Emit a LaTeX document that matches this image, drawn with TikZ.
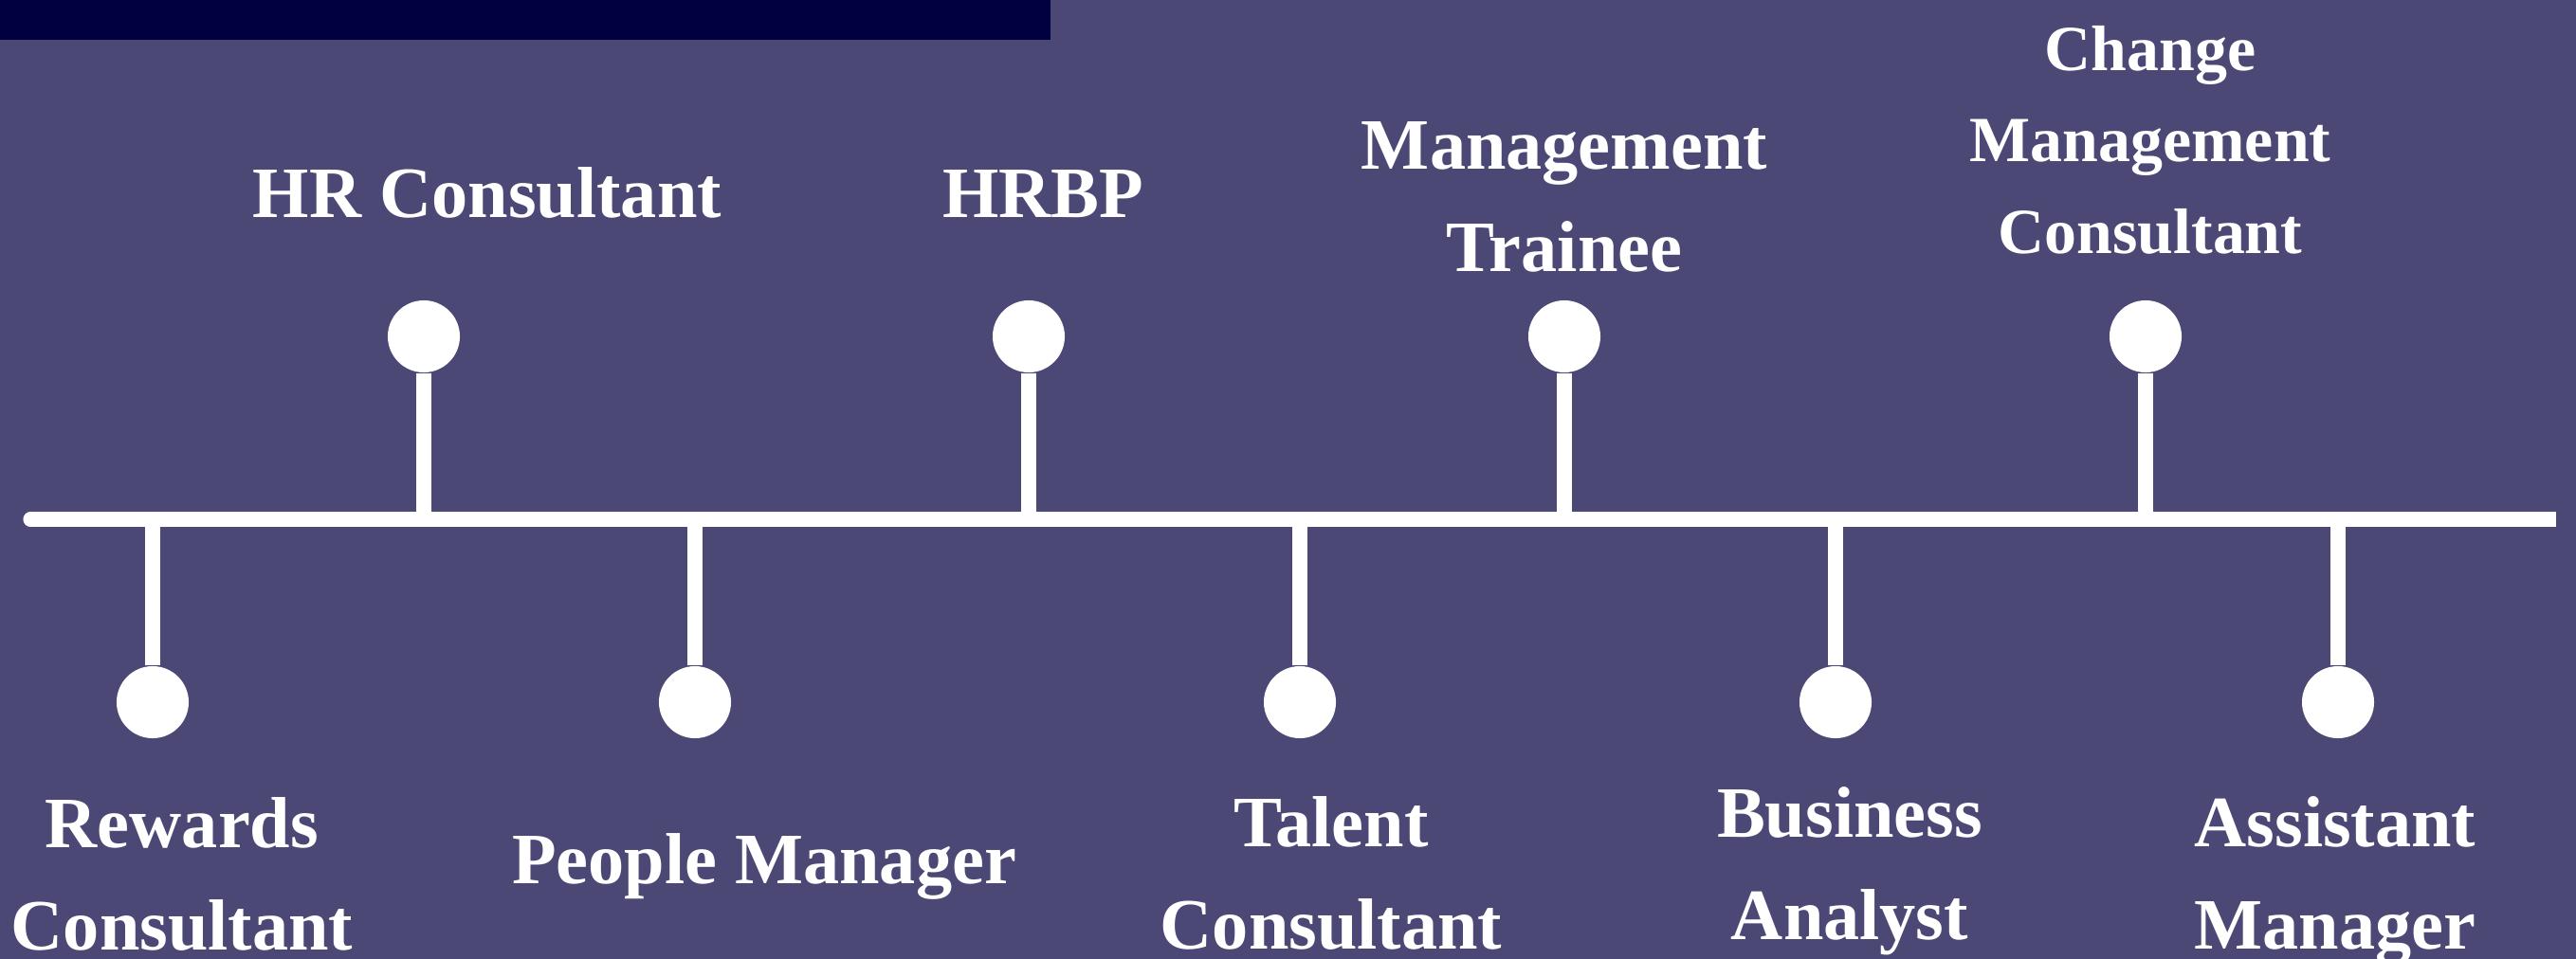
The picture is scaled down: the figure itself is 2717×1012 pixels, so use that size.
\documentclass[tikz,border=0pt]{standalone}
\usepackage{fontspec}
\setmainfont{Liberation Serif}
\definecolor{bgpurple}{HTML}{4B4876}
\definecolor{darknavy}{HTML}{000040}
\tikzset{
  dot/.style={circle, fill=white, inner sep=0pt, minimum size=0.76cm},
  stem/.style={white, line width=4.3pt},
  role/.style={text=white, align=center, inner sep=0pt, anchor=base,
    font=\fontsize{21.7}{30.7}\selectfont\bfseries}
}
\begin{document}
\begin{tikzpicture}[x=0.01cm, y=-0.01cm]
    \useasboundingbox (0,0) rectangle (2717,1012);
    \fill[bgpurple] (0,0) rectangle (2717,1012);
    \fill[darknavy] (0,0) rectangle (1108,42);
    % timeline
    \coordinate (start) at (32,548);
    \coordinate (stop) at (2696,548);
    \draw[stem, line cap=round] (start) -- (2000,548);
    \draw[stem] (2000,548) -- (stop);
    % points above the line
    \node[dot] (hrc) at (447,355) {};
    \node[dot] (hrbp) at (1085,355) {};
    \node[dot] (mgt) at (1650,355) {};
    \node[dot] (chg) at (2263,355) {};
    \draw[stem] (hrc) -- (hrc |- start);
    \draw[stem] (hrbp) -- (hrbp |- start);
    \draw[stem] (mgt) -- (mgt |- start);
    \draw[stem] (chg) -- (chg |- start);
    % points below the line
    \node[dot] (rew) at (161,741) {};
    \node[dot] (ppl) at (733,741) {};
    \node[dot] (tal) at (1371,741) {};
    \node[dot] (bus) at (1936,741) {};
    \node[dot] (ast) at (2466,741) {};
    \draw[stem] (rew) -- (rew |- start);
    \draw[stem] (ppl) -- (ppl |- start);
    \draw[stem] (tal) -- (tal |- start);
    \draw[stem] (bus) -- (bus |- start);
    \draw[stem] (ast) -- (ast |- start);
    % labels (base = last line)
    \node[role] (hrc-l) at (514,229) {HR Consultant};
    \node[role] (hrbp-l) at (1100,229) {HRBP};
    \node[role] (mgt-l) at (1650,286) {Management\\Trainee};
    \node[role, font=\fontsize{19.3}{27.3}\selectfont\bfseries] (chg-l) at (2268,267) {Change\\Management\\Consultant};
    \node[role] (rew-l) at (192,1002) {Rewards\\Consultant};
    \node[role] (ppl-l) at (806,932) {People Manager};
    \node[role] (tal-l) at (1404,1001) {Talent\\Consultant};
    \node[role] (bus-l) at (1951,991) {Business\\Analyst};
    \node[role] (ast-l) at (2463,1001) {Assistant\\Manager};
\end{tikzpicture}
\end{document}
